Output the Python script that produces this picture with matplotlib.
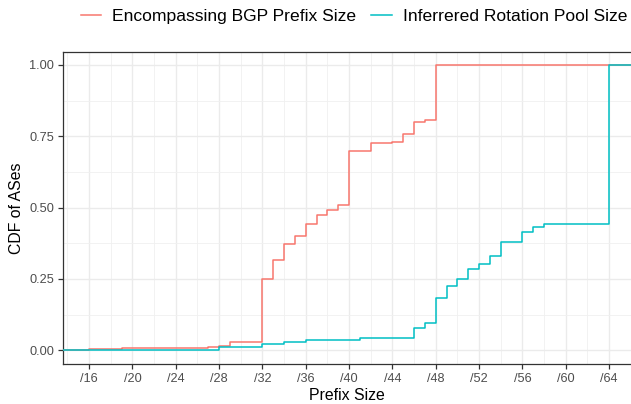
import matplotlib
matplotlib.use("Agg")
import matplotlib.pyplot as plt
import numpy as np
from matplotlib.lines import Line2D

plt.rcParams['font.family'] = ['Liberation Sans', 'DejaVu Sans']

# Data
bgp_prefix = [16, 19, 27, 28, 29, 32, 33, 34, 35, 36, 37, 38, 39, 40, 42, 44, 45, 46, 47, 48]
bgp_cdf = [0.005, 0.008, 0.013, 0.015, 0.029, 0.250, 0.316, 0.371, 0.402, 0.444, 0.473,
           0.493, 0.510, 0.699, 0.726, 0.731, 0.757, 0.799, 0.805, 1.0]
pool_prefix = [28, 32, 34, 36, 41, 46, 47, 48, 49, 50, 51, 52, 53, 54, 56, 57, 58, 64]
pool_cdf = [0.010, 0.021, 0.028, 0.036, 0.044, 0.078, 0.095, 0.182, 0.225, 0.250, 0.286,
            0.302, 0.329, 0.380, 0.414, 0.431, 0.441, 1.0]
x_ticks = list(range(16, 65, 4))
x_ticklabels = ["/%d" % t for t in x_ticks]
y_ticks = [0.0, 0.25, 0.5, 0.75, 1.0]
y_ticklabels = ["0.00", "0.25", "0.50", "0.75", "1.00"]
series_names = ["Encompassing BGP Prefix Size", "Inferrered Rotation Pool Size"]
colors = ["#F8766D", "#00BFC4"]

W, H = 631, 404
xlo, xhi = 13.62, 66.03
ylo, yhi = -0.048, 1.046

fig = plt.figure(figsize=(W / 100, H / 100), dpi=100)
left_px, top_px, bottom_px = 63.3, 51.7, 364.0
ax = fig.add_axes([left_px / W, 1 - bottom_px / H, 1 - left_px / W, (bottom_px - top_px) / H])

for xs, ys, c in [(bgp_prefix, bgp_cdf, colors[0]), (pool_prefix, pool_cdf, colors[1])]:
    sx = [xlo - 1] + list(xs) + [xhi + 2]
    sy = [0.0] + list(ys) + [ys[-1]]
    ax.step(sx, sy, where='post', color=c, lw=1.1, zorder=3, clip_on=True)

ax.set_xlim(xlo, xhi)
ax.set_ylim(ylo, yhi)
ax.set_xticks(x_ticks)
ax.set_xticklabels(x_ticklabels)
ax.set_yticks(y_ticks)
ax.set_yticklabels(y_ticklabels)
ax.set_xticks(np.arange(14, 67, 4), minor=True)
ax.set_yticks([0.125, 0.375, 0.625, 0.875], minor=True)

ax.grid(True, which='major', color='#EBEBEB', lw=1.0, zorder=0)
ax.grid(True, which='minor', color='#F0F0F0', lw=0.6, zorder=0)
ax.set_axisbelow(True)

for s in ['left', 'bottom', 'top']:
    ax.spines[s].set_color('#333333')
    ax.spines[s].set_linewidth(0.9)
ax.spines['right'].set_visible(False)

ax.tick_params(axis='both', which='major', length=3.5, width=0.9, color='#333333',
               labelsize=9.2, labelcolor='#4D4D4D', pad=3)
ax.tick_params(axis='both', which='minor', length=0)

ax.set_xlabel("Prefix Size", fontsize=11.4, color='black', labelpad=2)
ax.set_ylabel("CDF of ASes", fontsize=11.4, color='black', labelpad=4)

# Legend (manual placement, ggplot-style top legend)
leg_y = 1 - 15 / H
key_spans = [(80.7, 100.7), (371.0, 391.7)]
text_x = [111.7, 402.7]
for (k0, k1), tx, name, c in zip(key_spans, text_x, series_names, colors):
    fig.add_artist(Line2D([k0 / W, k1 / W], [leg_y, leg_y], color=c, lw=1.1,
                          transform=fig.transFigure))
    fig.text(tx / W, 1 - 20.7 / H, name, fontsize=12.6, color='black',
             ha='left', va='baseline')

fig.savefig("out.png", dpi=100)
